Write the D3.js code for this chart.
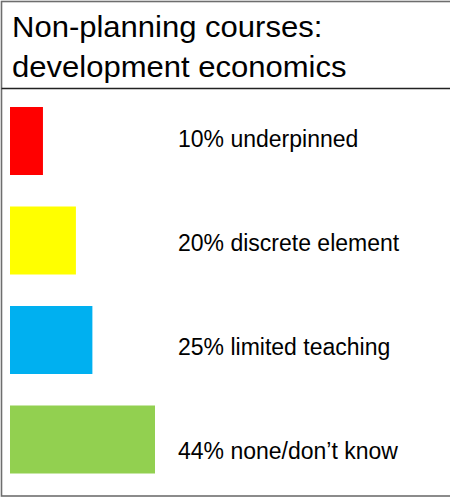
<!DOCTYPE html>
<html>
<head>
<meta charset="utf-8">
<script src="https://cdn.jsdelivr.net/npm/d3@7/dist/d3.min.js"></script>
<style>
  html, body { margin: 0; padding: 0; background: #fff; }
  svg { display: block; font-family: "Liberation Sans", Arial, sans-serif; }
</style>
</head>
<body>
<script>
// Share of non-planning courses by how development economics is covered
const categories = ["underpinned", "discrete element", "limited teaching", "none/don\u2019t know"];
const percentages = [10, 20, 25, 44];
const colors = ["#FF0000", "#FFFF00", "#00B0F0", "#92D050"];
const titleLines = ["Non-planning courses:", "development economics"];

const W = 450, H = 501;
const svg = d3.select("body").append("svg")
  .attr("width", W).attr("height", H);

// Frame and header divider
svg.append("rect")
  .attr("x", 1.5).attr("y", 1.5)
  .attr("width", W + 10).attr("height", 494.5)
  .attr("fill", "none").attr("stroke", "#6e6e6e").attr("stroke-width", 1.6);
svg.append("line")
  .attr("x1", 1.5).attr("x2", W).attr("y1", 88.5).attr("y2", 88.5)
  .attr("stroke", "#222").attr("stroke-width", 1.6);

// Title
const title = svg.append("g").attr("transform", "translate(12,0) scale(1.07,1)");
title.selectAll("text").data(titleLines).join("text")
  .attr("x", 0)
  .attr("y", (d, i) => 37 + i * 40.5)
  .attr("font-size", 29)
  .attr("fill", "#000")
  .text(d => d);

// Scales
const x = d3.scaleLinear().domain([0, 44]).range([0, 145]);
const yBar = d3.scalePoint().domain(categories).range([141, 439.5]);
const yLabel = d3.scalePoint().domain(categories).range([146.5, 459]);
const color = d3.scaleOrdinal().domain(categories).range(colors);
const barH = 68;
const barX = 10;

const rows = categories.map((c, i) => ({ cat: c, value: percentages[i] }));

svg.append("g").selectAll("rect").data(rows).join("rect")
  .attr("x", barX)
  .attr("y", d => yBar(d.cat) - barH / 2)
  .attr("width", d => x(d.value))
  .attr("height", barH)
  .attr("fill", d => color(d.cat));

svg.append("g").selectAll("text").data(rows).join("text")
  .attr("x", 178)
  .attr("y", d => yLabel(d.cat))
  .attr("font-size", 23)
  .attr("fill", "#000")
  .text(d => `${d.value}% ${d.cat}`);
</script>
</body>
</html>
